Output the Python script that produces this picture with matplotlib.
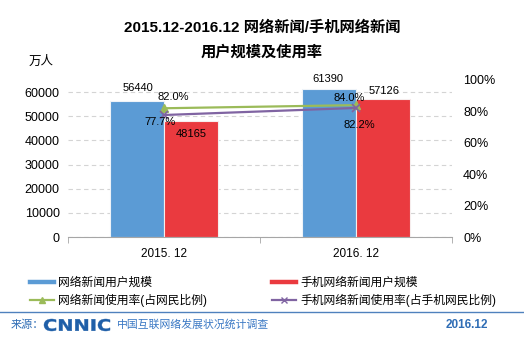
import matplotlib.pyplot as plt
from matplotlib.lines import Line2D
from matplotlib.textpath import TextPath
from matplotlib.patches import PathPatch
from matplotlib.font_manager import FontProperties
import matplotlib.transforms as mtransforms

plt.rcParams['font.family'] = ['Liberation Sans', 'Noto Sans CJK SC', 'DejaVu Sans']

# data
periods = ['2015. 12', '2016. 12']
news_users = [56440, 61390]          # 网络新闻用户规模（万人）
mobile_news_users = [48165, 57126]   # 手机网络新闻用户规模（万人）
news_rate = [0.820, 0.840]           # 网络新闻使用率
mobile_news_rate = [0.777, 0.822]    # 手机网络新闻使用率

blue = '#5B9BD5'
red = '#EA3A3F'
green = '#9BBB59'
purple = '#8064A2'
brand = '#1F5FA8'

fig = plt.figure(figsize=(5.24, 3.48), dpi=100)
fig.patch.set_facecolor('white')

ax = fig.add_axes([68 / 524, 111 / 348, 384 / 524, 157 / 348])
ax.set_facecolor('none')
ax2 = ax.twinx()

x = list(range(len(periods)))
w = 0.28
xb = [i - w / 2 for i in x]
xr = [i + w / 2 for i in x]
ax.bar(xb, news_users, w, color=blue, edgecolor='#EEF3F8', linewidth=0.8, zorder=3)
ax.bar(xr, mobile_news_users, w, color=red, edgecolor='#F6EDED', linewidth=0.8, zorder=3)

ax.set_ylim(0, 65000)
ax.set_xlim(-0.5, 1.5)
ax.set_yticks(range(0, 60001, 10000))
ax.set_xticks(x)
ax.set_xticklabels(periods, fontsize=8.5)
ax.set_xticks([-0.5, 0.5, 1.5], minor=True)
ax.tick_params(axis='x', which='major', length=0, pad=8)
ax.tick_params(axis='x', which='minor', length=4, color='#A6A6A6', direction='out')
ax.tick_params(axis='y', length=0, labelsize=9, pad=6)
ax.yaxis.grid(True, linestyle=(0, (4, 3)), color='#D4D4D4', linewidth=0.8)
ax.set_axisbelow(True)
for s in ['top', 'left', 'right']:
    ax.spines[s].set_visible(False)
ax.spines['bottom'].set_color('#A6A6A6')
ax.spines['bottom'].set_zorder(4)

ax2.plot(x, news_rate, color=green, linewidth=1.6, marker='^', markersize=6, zorder=5)
ax2.plot(x, mobile_news_rate, color=purple, linewidth=1.6, marker='x', markersize=6,
         markeredgewidth=1.2, zorder=5)
ax2.set_ylim(0, 1)
ax2.set_yticks([0, 0.2, 0.4, 0.6, 0.8, 1.0])
ax2.set_yticklabels(['0%', '20%', '40%', '60%', '80%', '100%'])
ax2.tick_params(axis='y', length=0, labelsize=9, pad=8)
for s in ax2.spines.values():
    s.set_visible(False)

# value labels
lab = dict(textcoords='offset pixels', ha='center', va='center', fontsize=8, zorder=6)
bar_offsets = [(1, 13), (-1, 10)]
for i, v in enumerate(news_users):
    ax.annotate(str(v), (xb[i], v), xytext=bar_offsets[i], **lab)
red_offsets = [(0, -13), (1, 8)]
for i, v in enumerate(mobile_news_users):
    ax.annotate(str(v), (xr[i], v), xytext=red_offsets[i], **lab)
green_offsets = [(9, 11), (-7, 7)]
for i, v in enumerate(news_rate):
    ax2.annotate(f'{v * 100:.1f}%', (x[i], v), xytext=green_offsets[i], **lab)
purple_offsets = [(-4, -7), (3, -17)]
for i, v in enumerate(mobile_news_rate):
    ax2.annotate(f'{v * 100:.1f}%', (x[i], v), xytext=purple_offsets[i], **lab)

# titles
fig.text(0.5, 1 - 28 / 348, '2015.12-2016.12 网络新闻/手机网络新闻', ha='center', va='center',
         fontsize=11, fontweight='bold')
fig.text(0.5, 1 - 52 / 348, '用户规模及使用率', ha='center', va='center',
         fontsize=11, fontweight='bold')
fig.text(41 / 524, 1 - 62 / 348, '万人', ha='center', va='center', fontsize=9)

# legend
handles = [
    Line2D([0], [0], color=blue, linewidth=3.2),
    Line2D([0], [0], color=green, linewidth=1.6, marker='^', markersize=5),
    Line2D([0], [0], color=red, linewidth=3.2),
    Line2D([0], [0], color=purple, linewidth=1.6, marker='x', markersize=5),
]
labels = ['网络新闻用户规模', '网络新闻使用率(占网民比例)',
          '手机网络新闻用户规模', '手机网络新闻使用率(占手机网民比例)']
fig.legend(handles, labels, ncol=2, loc='upper left', bbox_to_anchor=(24 / 524, 1 - 271 / 348),
           frameon=False, fontsize=8.5, handlelength=2.0, handletextpad=0.4,
           columnspacing=5.5, labelspacing=0.45, borderpad=0)

# footer
fig.add_artist(Line2D([0, 1], [1 - 312 / 348] * 2, color='#4F81BD', linewidth=1,
                      transform=fig.transFigure))
fig.text(11 / 524, 1 - 325 / 348, '来源：', ha='left', va='center', fontsize=8, color='#2F6DB5')
tp = TextPath((0, 0), 'CNNIC', size=1, prop=FontProperties(family='DejaVu Sans', weight='bold'))
bb = tp.get_extents()
logo_tf = (mtransforms.Affine2D().translate(-bb.x0, -bb.y0)
           .scale(66 / 524 / bb.width, 12 / 348 / bb.height)
           .translate(44 / 524, 1 - 331 / 348) + fig.transFigure)
fig.add_artist(PathPatch(tp, transform=logo_tf, facecolor=brand, edgecolor=brand, linewidth=0.3))
fig.text(117 / 524, 1 - 325 / 348, '中国互联网络发展状况统计调查', ha='left', va='center',
         fontsize=7.8, color='#3A78C4')
fig.text(488 / 524, 1 - 325 / 348, '2016.12', ha='right', va='center', fontsize=8.5,
         fontweight='bold', color='#2F6DB5')

fig.savefig('out.png', dpi=100)
